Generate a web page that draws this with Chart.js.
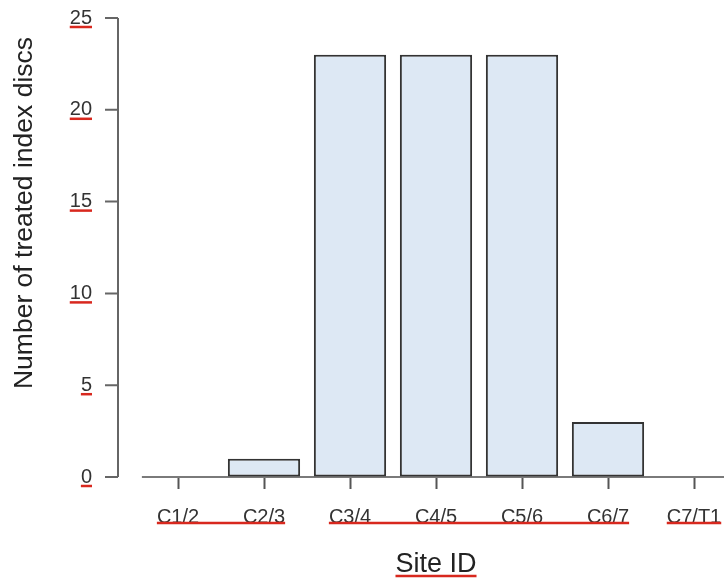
<!DOCTYPE html>
<html>
<head>
<meta charset="utf-8">
<title>Treated index discs by site</title>
<script src="https://cdn.jsdelivr.net/npm/chart.js@4/dist/chart.umd.min.js"></script>
<style>
  html, body { margin: 0; padding: 0; background: #fff; overflow: hidden; }
  canvas { display: block; }
</style>
</head>
<body>
<canvas id="discChart" width="740" height="579"></canvas>
<script>
const sites = ["C1/2", "C2/3", "C3/4", "C4/5", "C5/6", "C6/7", "C7/T1"];
const treatedDiscs = [0, 1, 23, 23, 23, 3, 0];
const yTicks = [0, 5, 10, 15, 20, 25];
const yTitle = "Number of treated index discs";
const xTitle = "Site ID";

// label groups that get the red underline
const underlineGroups = [[0, 1], [2, 5], [6, 6]];

const FONT = "'Liberation Sans', Arial, Helvetica, sans-serif";
const RED = "#d8281e";

const decor = {
  id: "decor",
  beforeDatasetsDraw(chart) {
    const { ctx, scales: { y } } = chart;
    const bars = chart.getDatasetMeta(0).data;
    const base = y.getPixelForValue(0);
    const first = bars[0], last = bars[bars.length - 1];
    ctx.save();
    ctx.strokeStyle = "#7a7a7a";
    ctx.lineWidth = 2;
    ctx.beginPath();
    ctx.moveTo(first.x - first.width / 2, base);
    ctx.lineTo(last.x + last.width / 2, base);
    ctx.stroke();
    ctx.restore();
  },
  afterDraw(chart) {
    const { ctx, chartArea, scales: { x, y } } = chart;
    const axisX = chartArea.left - 17;
    ctx.save();

    // y axis line and tick marks
    ctx.strokeStyle = "#666";
    ctx.lineWidth = 2;
    ctx.beginPath();
    ctx.moveTo(axisX, y.getPixelForValue(yTicks[yTicks.length - 1]));
    ctx.lineTo(axisX, y.getPixelForValue(yTicks[0]));
    yTicks.forEach(v => {
      const py = y.getPixelForValue(v);
      ctx.moveTo(axisX - 13, py);
      ctx.lineTo(axisX, py);
    });
    ctx.stroke();

    // red underlines below the y tick labels
    ctx.font = "20px " + FONT;
    ctx.strokeStyle = RED;
    ctx.lineWidth = 2.5;
    const labelRight = chartArea.left - 43;
    yTicks.forEach(v => {
      const w = ctx.measureText(String(v)).width;
      const py = y.getPixelForValue(v) + 9;
      ctx.beginPath();
      ctx.moveTo(labelRight - w, py);
      ctx.lineTo(labelRight, py);
      ctx.stroke();
    });

    // red underlines below the site labels
    const lineY = chartArea.bottom + 46;
    underlineGroups.forEach(([a, b]) => {
      const x0 = x.getPixelForValue(a) - ctx.measureText(sites[a]).width / 2;
      const x1 = x.getPixelForValue(b) + ctx.measureText(sites[b]).width / 2;
      ctx.beginPath();
      ctx.moveTo(x0, lineY);
      ctx.lineTo(x1, lineY);
      ctx.stroke();
    });

    // x title
    const cx = (x.getPixelForValue(0) + x.getPixelForValue(sites.length - 1)) / 2;
    ctx.font = "27px " + FONT;
    ctx.fillStyle = "#222";
    ctx.textAlign = "center";
    ctx.textBaseline = "alphabetic";
    ctx.fillText(xTitle, cx, 572);
    const tw = ctx.measureText(xTitle).width;
    ctx.beginPath();
    ctx.moveTo(cx - tw / 2, 576);
    ctx.lineTo(cx + tw / 2, 576);
    ctx.stroke();

    // y title
    ctx.font = "26.5px " + FONT;
    ctx.translate(25, 213);
    ctx.rotate(-Math.PI / 2);
    ctx.textBaseline = "middle";
    ctx.fillText(yTitle, 0, 0);
    ctx.restore();
  }
};

new Chart(document.getElementById("discChart"), {
  type: "bar",
  data: {
    labels: sites,
    datasets: [{
      data: treatedDiscs,
      backgroundColor: "#dde8f4",
      borderColor: "#333",
      borderWidth: 2,
      borderSkipped: false,
      categoryPercentage: 1,
      barPercentage: 0.84
    }]
  },
  options: {
    responsive: false,
    animation: false,
    devicePixelRatio: 1,
    layout: { padding: { top: 18, right: 3, bottom: 0, left: 0 } },
    plugins: { legend: { display: false }, tooltip: { enabled: false } },
    scales: {
      x: {
        offset: true,
        afterFit(scale) { scale.height = 102; },
        grid: {
          offset: false,
          drawOnChartArea: false,
          tickLength: 12,
          tickWidth: 2,
          tickColor: "#555"
        },
        border: { display: false },
        ticks: {
          padding: 16,
          color: "#333",
          font: { family: FONT, size: 20 },
          maxRotation: 0,
          autoSkip: false
        }
      },
      y: {
        min: 0,
        max: 25,
        afterFit(scale) { scale.width = 135; },
        afterBuildTicks(scale) { scale.ticks = yTicks.map(v => ({ value: v })); },
        // tick marks are drawn by the decor plugin; the transparent ones only space the labels
        grid: { drawOnChartArea: false, tickLength: 43, tickColor: "rgba(0,0,0,0)" },
        border: { display: false },
        ticks: {
          padding: 0,
          color: "#333",
          font: { family: FONT, size: 20 }
        }
      }
    }
  },
  plugins: [decor]
});
</script>
</body>
</html>
